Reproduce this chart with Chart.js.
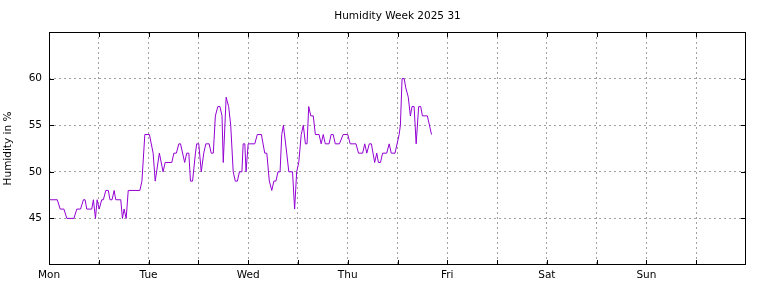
<!DOCTYPE html>
<html>
<head>
<meta charset="utf-8">
<script src="https://cdn.jsdelivr.net/npm/chart.js@4/dist/chart.umd.min.js"></script>
<style>
  html, body { margin: 0; padding: 0; background: #fff; }
  #wrap { width: 768px; height: 288px; }
</style>
</head>
<body>
<div id="wrap"><canvas id="humidityChart" width="768" height="288"></canvas></div>
<script>
// hours since Monday 00:00
const hours = [
    0.0, 2.0, 2.7, 3.6, 4.3, 6.0, 6.7, 7.6, 8.3, 8.7, 9.1, 10.3, 10.7, 11.2, 11.6, 12.1,
    12.7, 13.1, 13.7, 14.3, 14.7, 15.2, 15.7, 16.1, 17.3, 17.7, 18.1, 18.6, 19.1, 21.9,
    22.4, 23.1, 24.2, 25.1, 25.6, 26.6, 27.5, 28.0, 29.6, 30.1, 30.7, 31.3, 31.7, 32.7,
    33.2, 33.7, 34.1, 34.6, 35.3, 35.6, 36.1, 36.7, 37.3, 37.8, 38.6, 39.1, 39.6, 40.1,
    40.7, 41.2, 41.7, 42.0, 42.7, 43.3, 43.8, 44.4, 44.9, 45.4, 45.9, 46.5, 46.8, 47.2,
    47.5, 48.0, 49.6, 50.2, 51.2, 52.0, 52.5, 53.1, 53.7, 54.2, 54.7, 55.2, 55.7, 56.1,
    56.5, 57.3, 57.8, 58.7, 59.2, 59.7, 60.2, 60.8, 61.3, 61.8, 62.2, 62.6, 63.1, 63.7,
    64.2, 65.1, 65.6, 66.1, 66.6, 67.5, 68.0, 68.5, 69.0, 70.0, 70.9, 72.0, 72.6, 74.0,
    74.6, 75.6, 76.1, 76.6, 77.2, 77.7, 78.5, 79.0, 79.4, 79.9, 80.4, 81.4, 82.0, 82.5,
    83.4, 83.9, 84.4, 84.7, 85.1, 85.6, 86.0, 86.6, 87.1, 87.5, 88.0, 88.5, 89.1, 89.6,
    90.0, 91.2, 92.2
];
const humidity = [
    47, 47, 46, 46, 45, 45, 46, 46, 47, 47, 46, 46, 47, 45, 47, 46,
    47, 47, 48, 48, 47, 47, 48, 47, 47, 45, 46, 45, 48, 48,
    49, 54, 54, 52, 49, 52, 50, 51, 51, 52, 52, 53, 53, 51,
    52, 52, 49, 49, 52, 53, 53, 50, 52, 53, 53, 52, 52, 56,
    57, 57, 56, 51, 58, 57, 55, 50, 49, 49, 50, 50, 53, 53,
    50, 53, 53, 54, 54, 52, 52, 49, 48, 49, 49, 50, 50, 54,
    55, 52, 50, 50, 46, 50, 51, 54, 55, 53, 53, 57, 56, 56,
    54, 54, 53, 54, 53, 53, 54, 54, 53, 53, 54, 54, 53, 53,
    52, 52, 53, 52, 53, 53, 51, 52, 51, 51, 52, 52, 53, 52,
    52, 53, 54, 55, 60, 60, 59, 58, 56, 57, 57, 53, 57, 57,
    56, 56, 54
];
const dayLabels = ['Mon', 'Tue', 'Wed', 'Thu', 'Fri', 'Sat', 'Sun'];
const yLabelValues = [45, 50, 55, 60];
const chartTitle = 'Humidity Week 2025 31';

const fontFamily = '"DejaVu Sans", sans-serif';
const fontSize = 10.5;

// gnuplot style frame with ticks pointing inwards, title centred over the plot
const frameTicks = {
    id: 'frameTicks',
    afterDraw(chart) {
        const ctx = chart.ctx;
        const a = chart.chartArea;
        const xs = chart.scales.x;
        const ys = chart.scales.y;
        const len = 5;
        ctx.save();
        ctx.strokeStyle = '#000';
        ctx.lineWidth = 1;
        ctx.beginPath();
        xs.ticks.forEach(t => {
            if (t.value <= xs.min || t.value >= xs.max) return;
            const px = Math.round(xs.getPixelForValue(t.value)) + 0.5;
            ctx.moveTo(px, a.bottom);
            ctx.lineTo(px, a.bottom - len);
            ctx.moveTo(px, a.top);
            ctx.lineTo(px, a.top + len);
        });
        yLabelValues.forEach(v => {
            const py = Math.round(ys.getPixelForValue(v)) + 0.5;
            ctx.moveTo(a.left, py);
            ctx.lineTo(a.left + len, py);
            ctx.moveTo(a.right, py);
            ctx.lineTo(a.right - len, py);
        });
        ctx.stroke();
        ctx.strokeRect(Math.round(a.left) + 0.5, Math.round(a.top) + 0.5,
            Math.round(a.right - a.left) - 1, Math.round(a.bottom - a.top) - 1);

        ctx.fillStyle = '#000';
        ctx.font = fontSize + 'px ' + fontFamily;
        ctx.textAlign = 'center';
        ctx.textBaseline = 'middle';
        ctx.fillText(chartTitle, (a.left + a.right) / 2, 16);
        ctx.restore();
    }
};

const ctx = document.getElementById('humidityChart').getContext('2d');
const humidityChart = new Chart(ctx, {
    type: 'line',
    data: {
        datasets: [{
            label: 'Humidity',
            data: hours.map((h, i) => ({ x: h, y: humidity[i] })),
            borderColor: '#9400d3',
            borderWidth: 1,
            pointRadius: 0,
            tension: 0,
            fill: false
        }]
    },
    options: {
        responsive: false,
        animation: false,
        layout: {
            padding: { left: 0, right: 22, top: 32, bottom: 0 }
        },
        scales: {
            x: {
                type: 'linear',
                min: 0,
                max: 168,
                afterFit: function (scale) { scale.height = 23; },
                ticks: {
                    stepSize: 12,
                    autoSkip: false,
                    maxRotation: 0,
                    padding: 4,
                    color: '#000',
                    font: { family: fontFamily, size: fontSize },
                    callback: function (value) {
                        if (value % 24 === 0 && value < 168) return dayLabels[value / 24];
                        return '';
                    }
                },
                grid: {
                    color: function (c) {
                        const v = c.tick ? c.tick.value : 0;
                        return (v <= 0 || v >= 168) ? 'rgba(0,0,0,0)' : '#a0a0a0';
                    },
                    lineWidth: 1,
                    drawTicks: false
                },
                border: { display: false, dash: [2, 3] }
            },
            y: {
                min: 40,
                max: 65,
                afterFit: function (scale) { scale.width = 49; },
                ticks: {
                    stepSize: 5,
                    padding: 7,
                    color: '#000',
                    font: { family: fontFamily, size: fontSize },
                    callback: function (value) {
                        return yLabelValues.includes(value) ? String(value) : '';
                    }
                },
                grid: {
                    color: function (c) {
                        const v = c.tick ? c.tick.value : 0;
                        return yLabelValues.includes(v) ? '#a0a0a0' : 'rgba(0,0,0,0)';
                    },
                    lineWidth: 1,
                    drawTicks: false
                },
                border: { display: false, dash: [2, 3] },
                title: {
                    display: true,
                    text: 'Humidity in %',
                    color: '#000',
                    font: { family: fontFamily, size: fontSize },
                    padding: { top: 2, bottom: 0 }
                }
            }
        },
        plugins: {
            legend: { display: false },
            tooltip: { enabled: false },
            title: { display: false }
        }
    },
    plugins: [frameTicks]
});
</script>
</body>
</html>
